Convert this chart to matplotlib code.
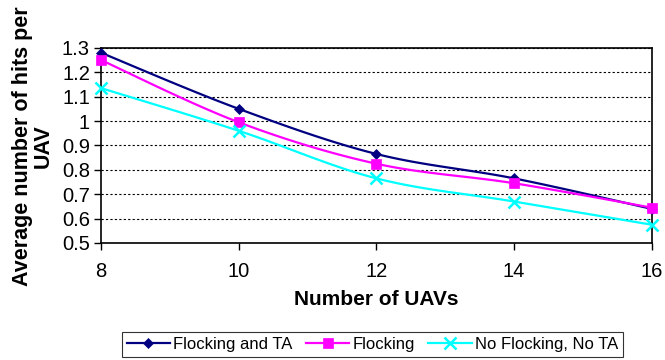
import numpy as np
import matplotlib
matplotlib.use("Agg")
import matplotlib.pyplot as plt

plt.rcParams['font.family'] = ['Liberation Sans', 'DejaVu Sans']

uavs = [8, 10, 12, 14, 16]
flocking_ta = [1.28, 1.05, 0.865, 0.765, 0.64]
flocking = [1.25, 0.995, 0.825, 0.745, 0.645]
no_flocking = [1.135, 0.96, 0.765, 0.67, 0.575]
yticks = [0.5, 0.6, 0.7, 0.8, 0.9, 1.0, 1.1, 1.2, 1.3]
ytick_labels = ['0.5', '0.6', '0.7', '0.8', '0.9', '1', '1.1', '1.2', '1.3']


def smooth(xs, ys, n=30):
    # excel style smoothed line (bezier through the points)
    p = np.column_stack([xs, ys]).astype(float)
    p = np.vstack([p[0], p, p[-1]])
    out = []
    idx = []
    t = np.linspace(0, 1, n, endpoint=False)[:, None]
    for i in range(1, len(p) - 2):
        p0, p1, p2, p3 = p[i - 1], p[i], p[i + 1], p[i + 2]
        c1 = p1 + (p2 - p0) / 6
        c2 = p2 - (p3 - p1) / 6
        seg = ((1 - t) ** 3) * p1 + 3 * ((1 - t) ** 2) * t * c1 \
            + 3 * (1 - t) * t ** 2 * c2 + t ** 3 * p2
        idx.append(len(out))
        out.extend(seg)
    idx.append(len(out))
    out.append(p[-2])
    out = np.array(out)
    return out[:, 0], out[:, 1], idx


fig = plt.figure(figsize=(6.65, 3.6), dpi=100)
ax = fig.add_axes([0.152, 0.325, 0.828, 0.542])

series = [
    (flocking_ta, '#000080', 'D', 5, 'Flocking and TA'),
    (flocking, '#FF00FF', 's', 7, 'Flocking'),
    (no_flocking, '#00FFFF', 'x', 8, 'No Flocking, No TA'),
]
for vals, col, mk, ms, name in series:
    sx, sy, idx = smooth(uavs, vals)
    ax.plot(sx, sy, color=col, lw=1.6, marker=mk, markersize=ms,
            markevery=idx, markeredgewidth=1.8 if mk == 'x' else 0.5,
            label=name, clip_on=False, zorder=3)

ax.set_xlim(8, 16)
ax.set_ylim(0.5, 1.3)
ax.set_xticks(uavs)
ax.set_yticks(yticks)
ax.set_yticklabels(ytick_labels)
ax.tick_params(labelsize=14.5, length=5, width=1, direction='out', pad=3)
ax.tick_params(axis='x', pad=9)
ax.yaxis.grid(True, linestyle=(0, (2, 2)), color='black', lw=0.8)
for s in ax.spines.values():
    s.set_linewidth(1.2)

fig.text(0.049, 0.593, 'Average number of hits per\nUAV', rotation=90,
         ha='center', va='center', multialignment='center',
         fontsize=15.5, fontweight='bold', linespacing=1.0)
fig.text(0.566, 0.167, 'Number of UAVs', ha='center', va='center',
         fontsize=15, fontweight='bold')

leg = fig.legend(loc='upper center', bbox_to_anchor=(0.56, 0.078), ncol=3,
                 fontsize=12, frameon=True, fancybox=False, edgecolor='black',
                 handlelength=2.6, handletextpad=0.2, columnspacing=0.8,
                 borderpad=0.3, borderaxespad=0)
leg.get_frame().set_linewidth(0.8)

fig.savefig('out.png', dpi=100)
